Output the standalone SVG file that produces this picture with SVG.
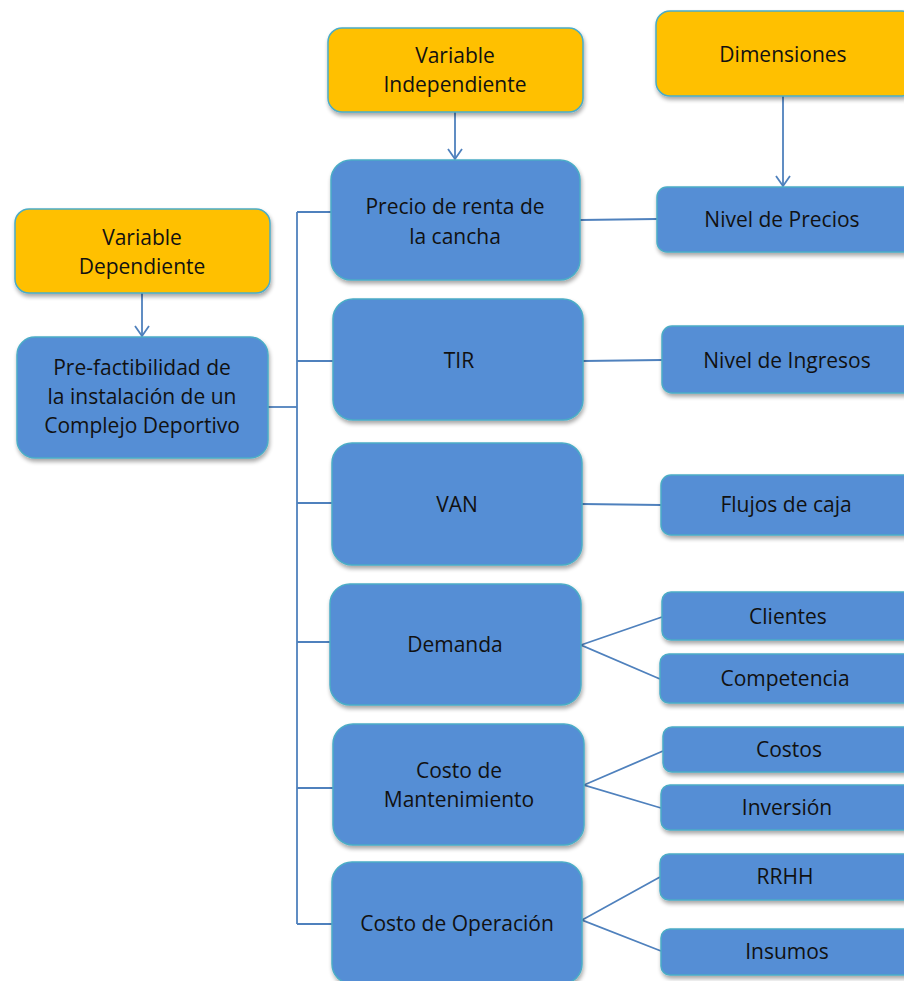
<svg xmlns="http://www.w3.org/2000/svg" width="904" height="981" viewBox="0 0 904 981">
  <defs>
    <filter id="shadow" x="-10%" y="-10%" width="130%" height="140%">
      <feGaussianBlur in="SourceAlpha" stdDeviation="2"/>
      <feOffset dx="1" dy="3" result="b"/>
      <feComponentTransfer><feFuncA type="linear" slope="0.35"/></feComponentTransfer>
      <feMerge><feMergeNode/><feMergeNode in="SourceGraphic"/></feMerge>
    </filter>
    <!-- open chevron arrowhead, drawn pointing along +x -->
    <marker id="arrow" viewBox="0 0 12 16" refX="11" refY="8" markerWidth="12" markerHeight="16" markerUnits="userSpaceOnUse" orient="auto">
      <path d="M1,1 L11,8 L1,15" fill="none" stroke="#4F81BD" stroke-width="1.8"/>
    </marker>
  </defs>
  <style>
    .box { filter: url(#shadow); stroke: #4BACC6; stroke-width: 1.5; }
    .head { fill: #FFC000; }
    .var { fill: #558ED5; }
    text { font-family: "Open Sans", "Liberation Sans", sans-serif; font-size: 21px; fill: #111; text-anchor: middle; }
    .conn { fill: none; stroke: #4F81BD; stroke-width: 1.8; }
  </style>
  <rect width="904" height="981" fill="#fff"/>

  <g id="connectors">
    <line class="conn" x1="142" y1="293" x2="142" y2="336" marker-end="url(#arrow)"/>
    <line class="conn" x1="455" y1="112" x2="455" y2="159" marker-end="url(#arrow)"/>
    <line class="conn" x1="783" y1="96" x2="783" y2="186" marker-end="url(#arrow)"/>
    <!-- trunk bracket -->
    <line class="conn" x1="268" y1="407" x2="297" y2="407"/>
    <line class="conn" x1="297" y1="212" x2="297" y2="924"/>
    <line class="conn" x1="297" y1="212" x2="331" y2="212"/>
    <line class="conn" x1="297" y1="361" x2="333" y2="361"/>
    <line class="conn" x1="297" y1="503" x2="332" y2="503"/>
    <line class="conn" x1="297" y1="642" x2="330" y2="642"/>
    <line class="conn" x1="297" y1="788" x2="333" y2="788"/>
    <line class="conn" x1="297" y1="924" x2="332" y2="924"/>
    <!-- variables to dimensions -->
    <line class="conn" x1="580" y1="220" x2="657" y2="219"/>
    <line class="conn" x1="583" y1="361" x2="662" y2="360"/>
    <line class="conn" x1="582" y1="504" x2="661" y2="505"/>
    <polyline class="conn" points="662,617 581,645 660,679"/>
    <polyline class="conn" points="663,751 584,785 661,808"/>
    <polyline class="conn" points="660,877 582,920 661,951"/>
  </g>

  <g id="variable-dependiente">
    <rect class="box head" x="15" y="209" width="255" height="84" rx="14"/>
    <text x="142" y="245">Variable</text>
    <text x="142" y="274">Dependiente</text>
  </g>
  <g id="pre-factibilidad">
    <rect class="box var" x="17" y="337" width="251" height="121" rx="18"/>
    <text x="142" y="375">Pre-factibilidad de</text>
    <text x="142" y="404">la instalación de un</text>
    <text x="142" y="433">Complejo Deportivo</text>
  </g>

  <g id="variable-independiente">
    <rect class="box head" x="328" y="28" width="255" height="84" rx="14"/>
    <text x="455" y="63">Variable</text>
    <text x="455" y="92">Independiente</text>
  </g>
  <g id="dimensiones">
    <rect class="box head" x="656" y="11" width="260" height="85" rx="14"/>
    <text x="783" y="62">Dimensiones</text>
  </g>

  <g id="precio">
    <rect class="box var" x="331" y="160" width="249" height="120" rx="20"/>
    <text x="455" y="214">Precio de renta de</text>
    <text x="455" y="244">la cancha</text>
  </g>
  <g id="tir">
    <rect class="box var" x="333" y="299" width="250" height="121" rx="20"/>
    <text x="459" y="368">TIR</text>
  </g>
  <g id="van">
    <rect class="box var" x="332" y="443" width="250" height="122" rx="20"/>
    <text x="457" y="512">VAN</text>
  </g>
  <g id="demanda">
    <rect class="box var" x="330" y="584" width="251" height="121" rx="20"/>
    <text x="455" y="652">Demanda</text>
  </g>
  <g id="costo-mantenimiento">
    <rect class="box var" x="333" y="724" width="251" height="121" rx="20"/>
    <text x="459" y="778">Costo de</text>
    <text x="459" y="807">Mantenimiento</text>
  </g>
  <g id="costo-operacion">
    <rect class="box var" x="332" y="862" width="250" height="122" rx="20"/>
    <text x="457" y="931">Costo de Operación</text>
  </g>

  <g id="nivel-precios">
    <rect class="box var" x="657" y="187" width="260" height="65" rx="10"/>
    <text x="782" y="227">Nivel de Precios</text>
  </g>
  <g id="nivel-ingresos">
    <rect class="box var" x="662" y="326" width="255" height="67" rx="10"/>
    <text x="787" y="368">Nivel de Ingresos</text>
  </g>
  <g id="flujos-caja">
    <rect class="box var" x="661" y="475" width="256" height="60" rx="10"/>
    <text x="786" y="512">Flujos de caja</text>
  </g>
  <g id="clientes">
    <rect class="box var" x="662" y="592" width="255" height="48" rx="9"/>
    <text x="788" y="624">Clientes</text>
  </g>
  <g id="competencia">
    <rect class="box var" x="660" y="654" width="257" height="49" rx="9"/>
    <text x="785" y="686">Competencia</text>
  </g>
  <g id="costos">
    <rect class="box var" x="663" y="727" width="254" height="45" rx="9"/>
    <text x="789" y="757">Costos</text>
  </g>
  <g id="inversion">
    <rect class="box var" x="661" y="785" width="256" height="45" rx="9"/>
    <text x="787" y="815">Inversión</text>
  </g>
  <g id="rrhh">
    <rect class="box var" x="660" y="854" width="257" height="46" rx="9"/>
    <text x="785" y="884">RRHH</text>
  </g>
  <g id="insumos">
    <rect class="box var" x="661" y="929" width="256" height="46" rx="9"/>
    <text x="787" y="959">Insumos</text>
  </g>
</svg>
